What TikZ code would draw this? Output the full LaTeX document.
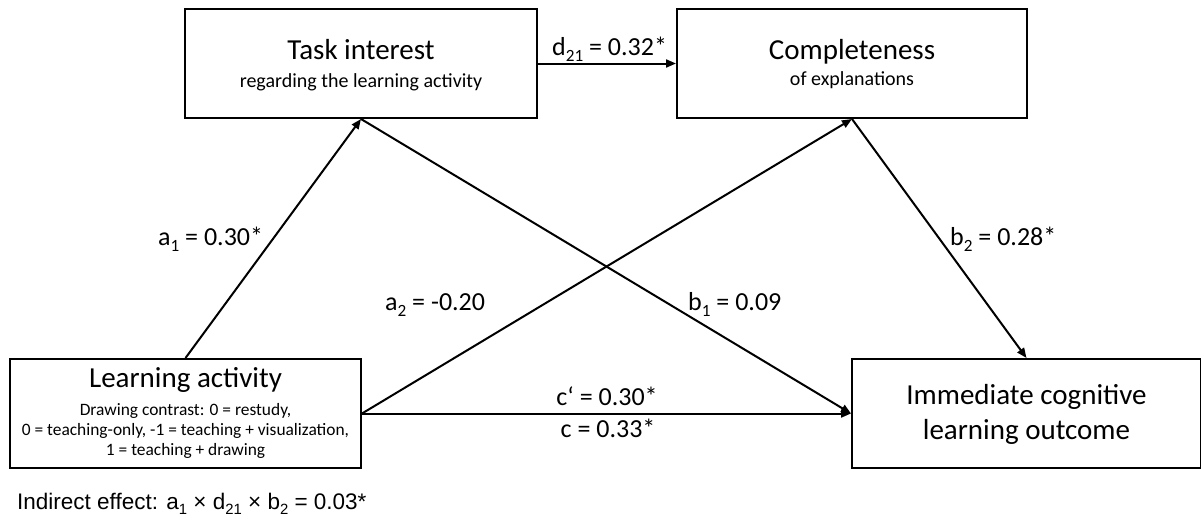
\documentclass[tikz,border=0pt]{standalone}
\usepackage{fontspec}
\setmainfont{Carlito}
\newfontfamily\arialfont{Liberation Sans}
\usetikzlibrary{arrows.meta}
\newcommand{\sbs}[1]{\raisebox{-0.24em}{\scalebox{0.66}{#1}}}
\tikzset{
  box/.style={draw=black, line width=2pt, rectangle, inner sep=0pt},
  conn/.style={line width=2pt, -{Triangle[length=10pt,width=8pt]}},
  title/.style={font=\fontsize{29}{32}\selectfont, anchor=base, inner sep=0pt},
  subtitle/.style={font=\fontsize{20}{22}\selectfont, anchor=base, inner sep=0pt},
  detail/.style={font=\fontsize{17.4}{20}\selectfont, anchor=base, inner sep=0pt},
  lbl/.style={font=\fontsize{26}{29}\selectfont, inner sep=0pt},
}
\begin{document}
\begin{tikzpicture}[x=1pt,y=-1pt]
\useasboundingbox (0,0) rectangle (1201,522);
% boxes
\node[box, minimum width=352pt, minimum height=109pt] (ti) at (361,63.5) {};
\node[box, minimum width=350pt, minimum height=109pt] (comp) at (852,63.5) {};
\node[box, minimum width=351pt, minimum height=109pt] (la) at (185.5,413.5) {};
\node[box, minimum width=349pt, minimum height=109pt] (imm) at (1026.5,413.5) {};
% box texts
\node[title] (tit) at (361,59) {Task interest};
\node[subtitle] (tis) at (361,87) {regarding the learning activity};
\node[title] (compt) at (852,59) {Completeness};
\node[subtitle] (comps) at (852,85) {of explanations};
\node[title] (lat) at (185.5,387) {Learning activity};
\node[detail] (la1) at (185.5,415) {Drawing contrast: 0 = restudy,};
\node[detail] (la2) at (185.5,435) {0 = teaching-only, -1 = teaching + visualization,};
\node[detail] (la3) at (185.5,455) {1 = teaching + drawing};
\node[title] (immt1) at (1026.5,404) {Immediate cognitive};
\node[title] (immt2) at (1026.5,439) {learning outcome};
% connectors
\draw[conn] (la.north) -- (ti.south);
\draw[conn] (ti.south) -- (imm.west);
\draw[conn] (la.east) -- (comp.south);
\draw[conn] (comp.south) -- (imm.north);
\draw[conn] (ti.east) -- (comp.west);
\draw[conn] (la.east) -- (imm.west);
% labels
\node[lbl, anchor=base west] (la1l) at (158,245) {a\sbs{1} = 0.30*};
\node[lbl, anchor=base west] (la2l) at (385,310) {a\sbs{2} = -0.20};
\node[lbl, anchor=base west] (lb1l) at (688,310) {b\sbs{1} = 0.09};
\node[lbl, anchor=base west] (lb2l) at (950,245) {b\sbs{2} = 0.28*};
\node[lbl, anchor=base west] (ld21) at (552,55) {d\sbs{21} = 0.32*};
\node[lbl, anchor=base] (lcp) at (607,405) {c‘ = 0.30*};
\node[lbl, anchor=base] (lc) at (608,437) {c = 0.33*};
% indirect effect
\node[anchor=base west, inner sep=0pt, font=\arialfont\fontsize{22.5}{26}\selectfont] (ind) at (17,509)
  {Indirect effect: a\sbs{1} × d\sbs{21} × b\sbs{2} = 0.03*};
\end{tikzpicture}
\end{document}
